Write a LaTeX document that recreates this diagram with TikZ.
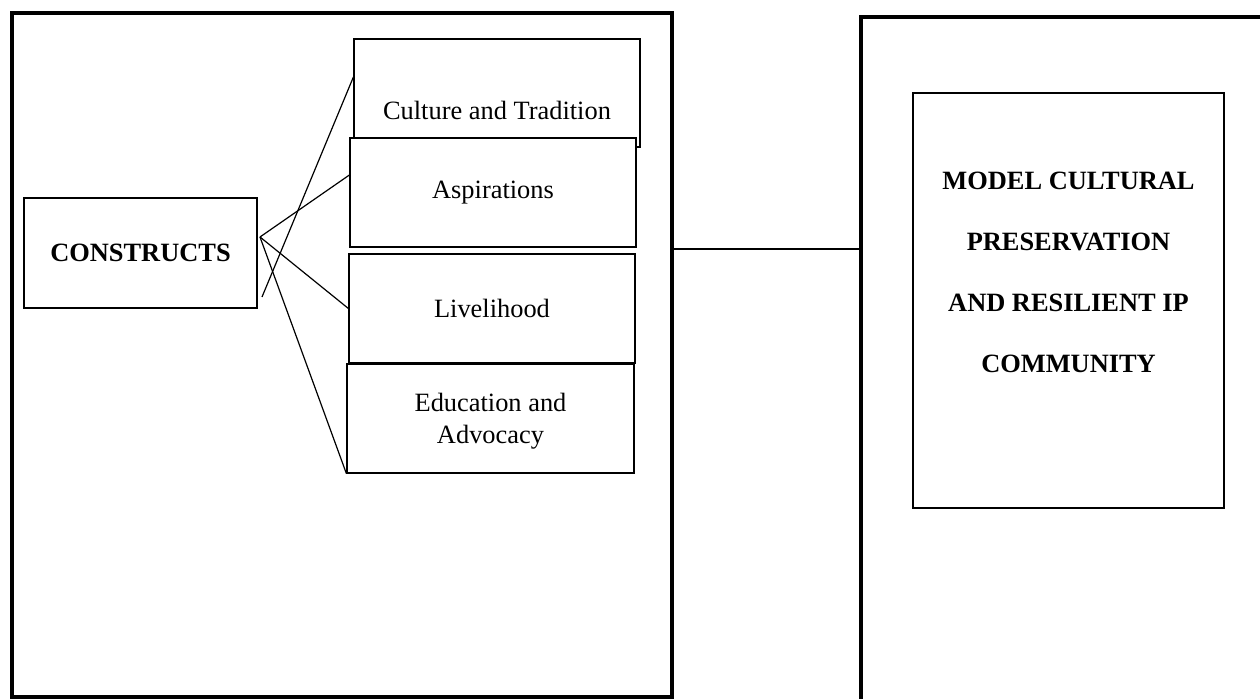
\documentclass[tikz,border=0pt]{standalone}
\usepackage{fontspec}
\setmainfont{Liberation Serif}
\begin{document}
\begin{tikzpicture}[x=0.5pt, y=-0.5pt,
  panel/.style={draw, line width=2.2pt, inner sep=0pt},
  itembox/.style={draw, fill=white, line width=0.6pt, inner sep=0pt,
    minimum width=143pt, minimum height=54.5pt},
  link/.style={line width=0.6pt},
  txt/.style={font=\fontsize{13.2}{16}\selectfont, align=center},
  boldtxt/.style={font=\fontsize{13.2}{30.5}\selectfont\bfseries, align=center}]

  \useasboundingbox (0,0) rectangle (1260,699);
  \clip (0,0) rectangle (1260,699);

  % Outer panels
  \node at (342,355) [panel, minimum width=330pt, minimum height=342pt] (leftpanel) {};
  \node at (1661,1097) [panel, minimum width=800pt, minimum height=1080pt] (rightpanel) {};

  % Constructs
  \node at (140.5,253) [draw, line width=0.6pt, minimum width=116.5pt, minimum height=55pt, boldtxt] (constructs) {CONSTRUCTS};

  % Construct items
  \node at (497,93) [itembox, minimum height=54pt] (culture) {};
  \node at (497,110) [txt] {Culture and Tradition};
  \node at (493,192.5) [itembox, txt] (aspire) {Aspirations};
  \node at (492,308.5) [itembox, txt] (live) {Livelihood};
  \node at (490.5,418.5) [itembox, txt, text depth=0pt, minimum width=143.5pt] (educ) {Education and\\Advocacy};

  % Links from constructs
  \coordinate (hub) at (260,237);
  \coordinate (tail) at (262,297);
  \draw[link] (tail) -- ([yshift=8pt]culture.west);
  \draw[link] (hub) -- ([yshift=8.75pt]aspire.west);
  \draw[link] (hub) -- (live.west);
  \draw[link] (hub) -- (educ.south west);

  % Link between panels
  \coordinate (midline) at (0,249);
  \draw[link] (leftpanel.east |- midline) -- (rightpanel.west |- midline);

  % Model box
  \node at (1068.5,300.5) [draw, line width=0.6pt, minimum width=155.5pt, minimum height=207.5pt] (model) {};
  \node at (1068.5,272.5) [boldtxt] {MODEL CULTURAL\\PRESERVATION\\AND RESILIENT IP\\COMMUNITY};

\end{tikzpicture}
\end{document}
